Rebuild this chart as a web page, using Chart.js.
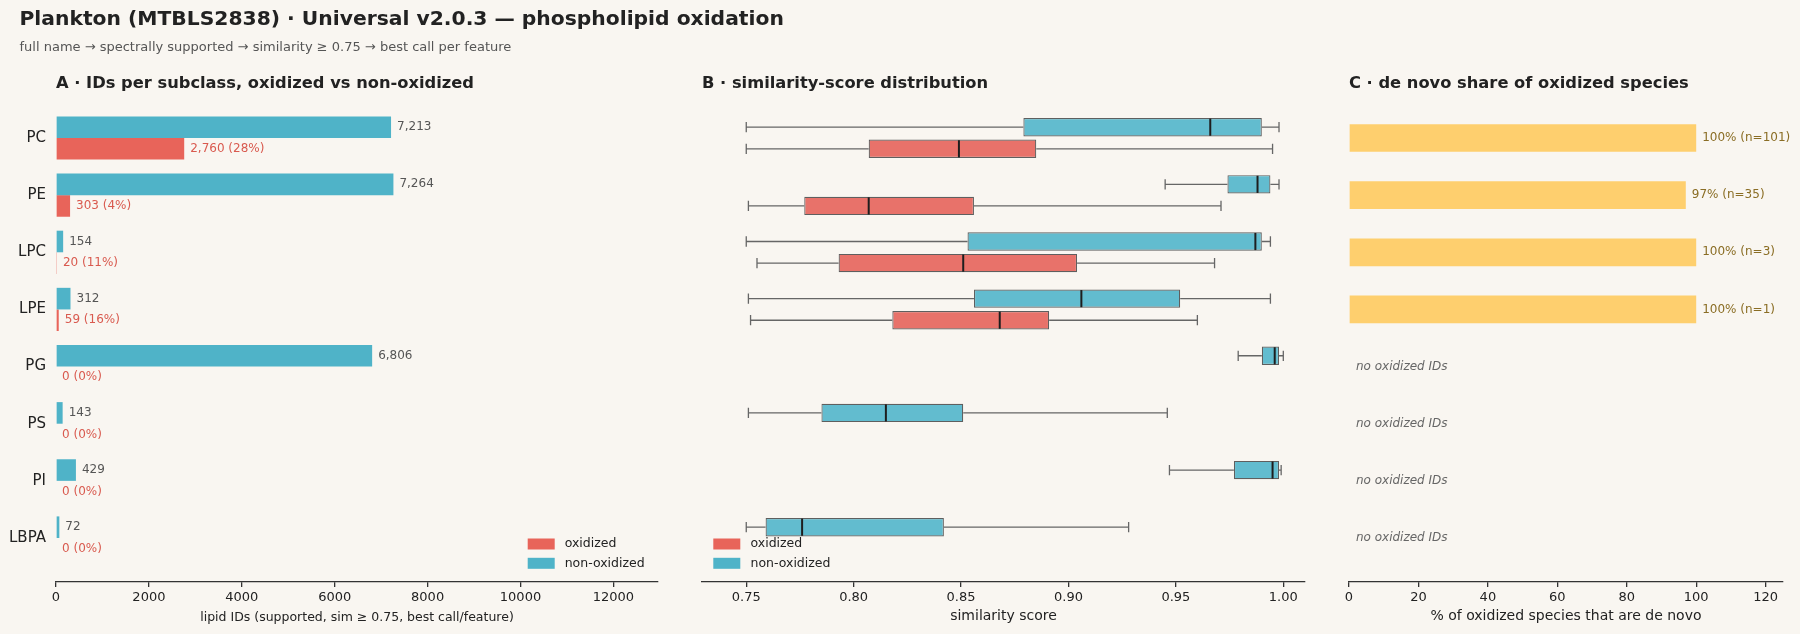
<!DOCTYPE html>
<html><head><meta charset="utf-8">
<script src="https://cdn.jsdelivr.net/npm/chart.js@4.4.1/dist/chart.umd.min.js"></script>
<style>
html,body{margin:0;padding:0;background:#f9f6f1;}
body{width:1800px;height:634px;position:relative;overflow:hidden;font-family:'DejaVu Sans',sans-serif;}
.t{position:absolute;white-space:nowrap;line-height:1;color:#222;}
canvas{position:absolute;top:0;}
</style></head><body>
<canvas id="cA" width="690" height="634" style="left:0px"></canvas>
<canvas id="cB" width="640" height="634" style="left:690px"></canvas>
<canvas id="cC" width="470" height="634" style="left:1330px"></canvas>
<div class="t" style="left:19.5px;top:8px;font-size:20.3px;font-weight:bold;">Plankton (MTBLS2838) · Universal v2.0.3 — phospholipid oxidation</div>
<div class="t" style="left:19.5px;top:40px;font-size:13px;color:#555;">full name → spectrally supported → similarity ≥ 0.75 → best call per feature</div>
<div class="t" style="left:56px;top:75px;font-size:16.3px;font-weight:bold;">A · IDs per subclass, oxidized vs non-oxidized</div>
<div class="t" style="left:702px;top:75px;font-size:16.3px;font-weight:bold;">B · similarity-score distribution</div>
<div class="t" style="left:1349px;top:75px;font-size:16.3px;font-weight:bold;">C · de novo share of oxidized species</div>
<script>
// ---------- data ----------
const categories = ['PC', 'PE', 'LPC', 'LPE', 'PG', 'PS', 'PI', 'LBPA'];
const nonOxidizedIds = [7213, 7264, 154, 312, 6806, 143, 429, 72];
const oxidizedIds = [2760, 303, 20, 59, 0, 0, 0, 0];
const idTicks = [0, 2000, 4000, 6000, 8000, 10000, 12000];

// similarity-score box statistics (non-oxidized: all subclasses; oxidized: PC, PE, LPC, LPE)
const nonOxWhiskerLo = [0.750, 0.945, 0.750, 0.751, 0.979, 0.751, 0.947, 0.750];
const nonOxQ1        = [0.879, 0.974, 0.853, 0.856, 0.990, 0.785, 0.977, 0.759];
const nonOxMedian    = [0.966, 0.988, 0.987, 0.906, 0.996, 0.815, 0.995, 0.776];
const nonOxQ3        = [0.990, 0.994, 0.990, 0.952, 0.998, 0.851, 0.998, 0.842];
const nonOxWhiskerHi = [0.998, 0.998, 0.994, 0.994, 1.000, 0.946, 0.999, 0.928];
const oxWhiskerLo = [0.750, 0.751, 0.755, 0.752];
const oxQ1        = [0.807, 0.777, 0.793, 0.818];
const oxMedian    = [0.849, 0.807, 0.851, 0.868];
const oxQ3        = [0.885, 0.856, 0.904, 0.891];
const oxWhiskerHi = [0.995, 0.971, 0.968, 0.960];
const simTicks = [0.75, 0.80, 0.85, 0.90, 0.95, 1.00];

const deNovoPct = [100, 97, 100, 100, null, null, null, null];
const deNovoN   = [101, 35, 3, 1, null, null, null, null];
const pctTicks = [0, 20, 40, 60, 80, 100, 120];

// ---------- styling ----------
const FONT = "'DejaVu Sans'";
Chart.defaults.font.family = FONT;
Chart.defaults.color = '#222';
const CYAN = '#4fb3c8', RED = '#e8645a';
const BOX_CYAN = '#62bccf', BOX_RED = '#e8726a';

function yScale(width, showLabels) {
  return {
    type: 'linear', min: -0.77, max: 7.77, reverse: true, offset: false,
    afterBuildTicks(s) { s.ticks = categories.map((c, i) => ({ value: i })); },
    ticks: { display: showLabels, callback: v => categories[v], padding: 10, font: { size: 15 }, color: '#222', autoSkip: false },
    grid: { display: false, offset: false, drawTicks: false, tickLength: 0 }, border: { display: false },
    afterFit(s) { s.width = width; }
  };
}
function xScale(min, max, tickVals, fmt, title, titleSize) {
  return {
    type: 'linear', min, max,
    afterBuildTicks(s) { s.ticks = tickVals.map(v => ({ value: v })); },
    ticks: { callback: fmt, font: { size: 13 }, color: '#222', padding: 3, maxRotation: 0, autoSkip: false },
    grid: { drawOnChartArea: false, drawTicks: true, tickLength: 5, color: '#333', lineWidth: 1.3 },
    border: { display: true, color: '#333', width: 1.3 },
    title: { display: true, text: title, font: { size: titleSize }, color: '#222', padding: { top: 0, bottom: 9 } },
    afterFit(s) { s.height = 52; }
  };
}
function legendItems(ctx, x0, textX, yc0, items) {
  ctx.save();
  ctx.font = "12.5px " + FONT; ctx.textBaseline = 'middle'; ctx.textAlign = 'left';
  items.forEach(([t, c], k) => {
    const yc = yc0 + k * 19.3;
    ctx.fillStyle = c; ctx.fillRect(x0, yc - 5.5, 27, 11);
    ctx.fillStyle = '#222'; ctx.fillText(t, textX, yc);
  });
  ctx.restore();
}
const baseOpts = { responsive: false, animation: false, indexAxis: 'y',
  plugins: { legend: { display: false }, tooltip: { enabled: false } } };

// ---------- panel A ----------
const fmtInt = v => v.toLocaleString('en-US');
new Chart(document.getElementById('cA'), {
  type: 'bar',
  data: { datasets: [
    { label: 'non-oxidized', data: nonOxidizedIds.map((v, i) => ({ x: v, y: i })), backgroundColor: CYAN },
    { label: 'oxidized', data: oxidizedIds.map((v, i) => ({ x: v, y: i })), backgroundColor: RED }
  ] },
  options: Object.assign({}, baseOpts, {
    datasets: { bar: { categoryPercentage: 0.756, barPercentage: 1 } },
    layout: { padding: { top: 94, right: 32, left: 0, bottom: 0 } },
    scales: { y: yScale(56, true), x: xScale(0, 12960, idTicks, v => String(v), 'lipid IDs (supported, sim ≥ 0.75, best call/feature)', 12.5) }
  }),
  plugins: [{
    id: 'labelsA',
    afterDatasetsDraw(chart) {
      const ctx = chart.ctx; ctx.save();
      ctx.font = "12px " + FONT; ctx.textBaseline = 'middle'; ctx.textAlign = 'left';
      chart.getDatasetMeta(0).data.forEach((el, i) => {
        ctx.fillStyle = '#555'; ctx.fillText(fmtInt(nonOxidizedIds[i]), el.x + 6, el.y);
      });
      chart.getDatasetMeta(1).data.forEach((el, i) => {
        const o = oxidizedIds[i], tot = o + nonOxidizedIds[i];
        ctx.fillStyle = '#d95a4f';
        ctx.fillText(fmtInt(o) + ' (' + Math.round(100 * o / tot) + '%)', el.x + 6, el.y);
      });
      ctx.restore();
    },
    afterDraw(chart) {
      const ca = chart.chartArea;
      legendItems(chart.ctx, ca.right - 130.3, ca.right - 93.3, ca.bottom - 38, [['oxidized', RED], ['non-oxidized', CYAN]]);
    }
  }]
});

// ---------- panel B ----------
const boxStats = [
  { lo: nonOxWhiskerLo, med: nonOxMedian, hi: nonOxWhiskerHi, q1: nonOxQ1, q3: nonOxQ3 },
  { lo: oxWhiskerLo, med: oxMedian, hi: oxWhiskerHi, q1: oxQ1, q3: oxQ3 }
];
new Chart(document.getElementById('cB'), {
  type: 'bar',
  data: { datasets: [
    { label: 'non-oxidized', data: nonOxQ1.map((q, i) => ({ x: [q, nonOxQ3[i]], y: i })), backgroundColor: BOX_CYAN, borderColor: '#5f5f5f', borderWidth: 1.2, borderSkipped: false },
    { label: 'oxidized', data: oxQ1.map((q, i) => ({ x: [q, oxQ3[i]], y: i })), backgroundColor: BOX_RED, borderColor: '#5f5f5f', borderWidth: 1.2, borderSkipped: false }
  ] },
  options: Object.assign({}, baseOpts, {
    datasets: { bar: { categoryPercentage: 0.756, barPercentage: 0.85 } },
    layout: { padding: { top: 94, right: 25, left: 0, bottom: 0 } },
    scales: { y: yScale(12, false), x: xScale(0.7294, 1.0101, simTicks, v => v.toFixed(2), 'similarity score', 14) }
  }),
  plugins: [{
    id: 'whiskers',
    afterDatasetsDraw(chart) {
      const ctx = chart.ctx, xs = chart.scales.x;
      ctx.save();
      boxStats.forEach((st, d) => {
        chart.getDatasetMeta(d).data.forEach((el, i) => {
          const y = el.y, h = el.height;
          const pLo = xs.getPixelForValue(st.lo[i]), pQ1 = xs.getPixelForValue(st.q1[i]);
          const pQ3 = xs.getPixelForValue(st.q3[i]), pHi = xs.getPixelForValue(st.hi[i]);
          const pMed = xs.getPixelForValue(st.med[i]);
          ctx.strokeStyle = '#666'; ctx.lineWidth = 1.3;
          ctx.beginPath();
          ctx.moveTo(pLo, y); ctx.lineTo(pQ1, y);
          ctx.moveTo(pQ3, y); ctx.lineTo(pHi, y);
          ctx.moveTo(pLo, y - h * 0.28); ctx.lineTo(pLo, y + h * 0.28);
          ctx.moveTo(pHi, y - h * 0.28); ctx.lineTo(pHi, y + h * 0.28);
          ctx.stroke();
          ctx.strokeStyle = '#1e1e1e'; ctx.lineWidth = 2;
          ctx.beginPath(); ctx.moveTo(pMed, y - h / 2 + 0.6); ctx.lineTo(pMed, y + h / 2 - 0.6); ctx.stroke();
        });
      });
      ctx.restore();
    },
    afterDraw(chart) {
      const ca = chart.chartArea;
      legendItems(chart.ctx, ca.left + 11.3, ca.left + 48.5, ca.bottom - 38, [['oxidized', RED], ['non-oxidized', CYAN]]);
    }
  }]
});

// ---------- panel C ----------
new Chart(document.getElementById('cC'), {
  type: 'bar',
  data: { datasets: [
    { label: 'de novo share', data: deNovoPct.map((v, i) => ({ x: v, y: i })).filter(p => p.x !== null), backgroundColor: '#fecf6e' }
  ] },
  options: Object.assign({}, baseOpts, {
    datasets: { bar: { categoryPercentage: 0.485, barPercentage: 1 } },
    layout: { padding: { top: 94, right: 17, left: 0, bottom: 0 } },
    scales: { y: yScale(19, false), x: xScale(0, 125, pctTicks, v => String(v), '% of oxidized species that are de novo', 14) }
  }),
  plugins: [{
    id: 'labelsC',
    afterDatasetsDraw(chart) {
      const ctx = chart.ctx, xs = chart.scales.x, ys = chart.scales.y;
      ctx.save(); ctx.textBaseline = 'middle'; ctx.textAlign = 'left';
      const els = chart.getDatasetMeta(0).data;
      let k = 0;
      deNovoPct.forEach((v, i) => {
        if (v !== null) {
          const el = els[k++];
          ctx.font = "12px " + FONT; ctx.fillStyle = '#8a6d24';
          ctx.fillText(v + '% (n=' + deNovoN[i] + ')', el.x + 6, el.y);
        } else {
          ctx.font = "italic 12px " + FONT; ctx.fillStyle = '#666';
          ctx.fillText('no oxidized IDs', xs.getPixelForValue(2), ys.getPixelForValue(i));
        }
      });
      ctx.restore();
    }
  }]
});
</script>
</body></html>
